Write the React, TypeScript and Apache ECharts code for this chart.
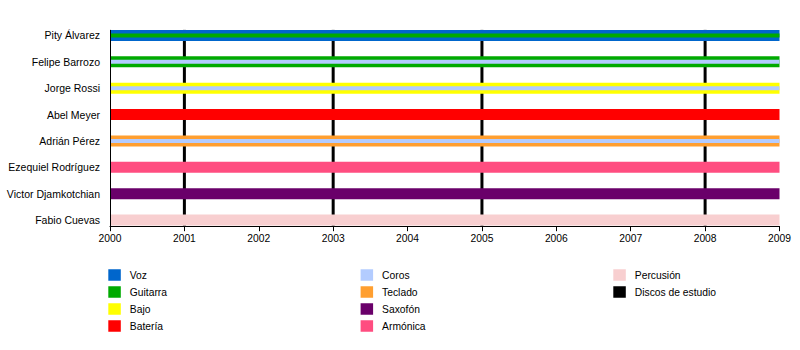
import React, { useEffect, useRef } from "react";
import * as echarts from "echarts";

const members = [
  "Pity Álvarez",
  "Felipe Barrozo",
  "Jorge Rossi",
  "Abel Meyer",
  "Adrián Pérez",
  "Ezequiel Rodríguez",
  "Victor Djamkotchian",
  "Fabio Cuevas",
];
const startYears = [2000, 2000, 2000, 2000, 2000, 2000, 2000, 2000];
const endYears = [2009, 2009, 2009, 2009, 2009, 2009, 2009, 2009];
const primaryRoles = ["Voz", "Guitarra", "Bajo", "Batería", "Teclado", "Armónica", "Saxofón", "Percusión"];
const secondaryRoles = ["Guitarra", "Coros", "Coros", null, "Coros", null, null, null];
const albumYears = [2001, 2003, 2005, 2008];
const xTicks = [2000, 2009];

const legendCol1 = ["Voz", "Guitarra", "Bajo", "Batería"];
const legendCol2 = ["Coros", "Teclado", "Saxofón", "Armónica"];
const legendCol3 = ["Percusión", "Discos de estudio"];
const roleNames = [...legendCol1, ...legendCol2, "Percusión"];

const roleColors: Record<string, string> = {
  Voz: "#0066CC",
  Guitarra: "#00AA00",
  Bajo: "#FFFF00",
  "Batería": "#FF0000",
  Coros: "#B3CCFF",
  Teclado: "#FF9F30",
  "Saxofón": "#6A006A",
  "Armónica": "#FF4D80",
  "Percusión": "#F8CFD0",
  "Discos de estudio": "#000000",
};

const FONT = "Liberation Sans, Arial, sans-serif";
const MAIN_H = 11;
const INNER_H = 4;

export default function App() {
  const ref = useRef<HTMLDivElement>(null);
  useEffect(() => {
    if (!ref.current) return;
    const chart = echarts.init(ref.current, null, { renderer: "svg" });

    const roleSeries = roleNames.map((role) => {
      const data: number[][] = [];
      members.forEach((_, i) => {
        if (primaryRoles[i] === role) data.push([startYears[i], endYears[i], i, 0]);
        if (secondaryRoles[i] === role) data.push([startYears[i], endYears[i], i, 1]);
      });
      return {
        type: "custom",
        name: role,
        itemStyle: { color: roleColors[role] },
        z: 3,
        silent: true,
        encode: { x: [0, 1], y: 2 },
        renderItem: (params: any, api: any) => {
          const s = api.coord([api.value(0), api.value(2)]);
          const e = api.coord([api.value(1), api.value(2)]);
          const inner = api.value(3) === 1;
          const h = inner ? INNER_H : MAIN_H;
          return {
            type: "rect",
            z2: inner ? 10 : 0,
            shape: { x: s[0], y: s[1] - h / 2, width: e[0] - s[0], height: h },
            style: { fill: roleColors[role] },
          };
        },
        data,
      };
    });

    const firstIdx = 0;
    const lastIdx = members.length - 1;

    const albumSeries = {
      type: "custom",
      name: "Discos de estudio",
      itemStyle: { color: "#000000" },
      z: 1,
      silent: true,
      renderItem: (params: any, api: any) => {
        const top = api.coord([api.value(0), firstIdx]);
        const bot = api.coord([api.value(0), lastIdx]);
        return {
          type: "line",
          shape: { x1: top[0], y1: top[1] - MAIN_H / 2, x2: bot[0], y2: bot[1] + MAIN_H / 2 },
          style: { stroke: "#000", lineWidth: 3 },
        };
      },
      data: albumYears.map((y) => [y]),
    };

    const frameSeries = {
      type: "custom",
      name: "frame",
      z: 4,
      silent: true,
      renderItem: (params: any, api: any) => {
        const top = api.coord([api.value(0), firstIdx]);
        const bot = api.coord([api.value(0), lastIdx]);
        return {
          type: "line",
          shape: { x1: top[0] + 0.5, y1: top[1] - MAIN_H / 2, x2: bot[0] + 0.5, y2: bot[1] + MAIN_H / 2 + 1 },
          style: { stroke: "#000", lineWidth: 1 },
        };
      },
      data: [[xTicks[0]]],
    };

    const legendBase = {
      orient: "vertical",
      top: 264,
      icon: "rect",
      itemWidth: 12.5,
      itemHeight: 11.5,
      itemGap: 5,
      selectedMode: false,
      textStyle: { fontFamily: FONT, fontSize: 10.3, lineHeight: 12, color: "#000", padding: [0, 0, 0, 4] },
    };

    chart.setOption({
      animation: false,
      backgroundColor: "#fff",
      grid: { left: 110, right: 20.5, top: 22.2, bottom: 116.8, containLabel: false },
      xAxis: {
        type: "value",
        min: xTicks[0],
        max: xTicks[1],
        interval: 1,
        offset: -7,
        axisLine: { show: true, lineStyle: { color: "#000", width: 1 } },
        axisTick: { show: true, length: 5, lineStyle: { color: "#000" } },
        axisLabel: {
          fontFamily: FONT,
          fontSize: 10.3,
          color: "#000",
          margin: 7,
          formatter: (v: number) => String(v),
        },
        splitLine: { show: false },
      },
      yAxis: {
        type: "category",
        data: members,
        inverse: true,
        axisLine: { show: false },
        axisTick: { show: false },
        axisLabel: { fontFamily: FONT, fontSize: 10.5, color: "#000", margin: 10 },
        splitLine: { show: false },
      },
      legend: [
        { ...legendBase, left: 103.3, data: legendCol1 },
        { ...legendBase, left: 355.6, data: legendCol2 },
        { ...legendBase, left: 608.3, data: legendCol3 },
      ],
      series: [albumSeries, ...roleSeries, frameSeries],
    });
    return () => chart.dispose();
  }, []);
  return (
    <div
      ref={ref}
      style={{ position: "fixed", left: 0, top: 0, width: 800, height: 350, background: "#fff" }}
    />
  );
}
